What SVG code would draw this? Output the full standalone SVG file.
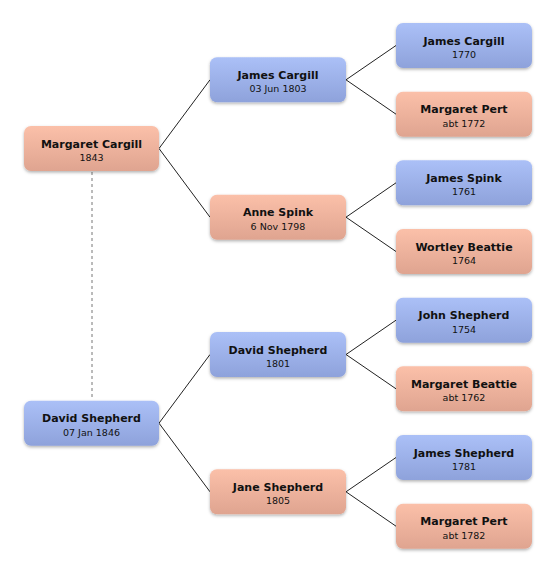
<svg xmlns="http://www.w3.org/2000/svg" width="556" height="574" viewBox="0 0 556 574">
<defs>
<linearGradient id="gb" x1="0" y1="0" x2="0" y2="1"><stop offset="0" stop-color="#abc0f7"/><stop offset="1" stop-color="#8ea2db"/></linearGradient>
<linearGradient id="gp" x1="0" y1="0" x2="0" y2="1"><stop offset="0" stop-color="#fbc0a9"/><stop offset="1" stop-color="#dfa490"/></linearGradient>
<filter id="sh" x="-10%" y="-20%" width="120%" height="150%"><feDropShadow dx="0" dy="1.5" stdDeviation="1.5" flood-color="#000" flood-opacity="0.3"/></filter>
<style>
.b{fill:url(#gb);filter:url(#sh)}
.p{fill:url(#gp);filter:url(#sh)}
.n{font-family:"DejaVu Sans",sans-serif;font-weight:bold;font-size:11px;fill:#111;text-anchor:middle}
.d{font-family:"DejaVu Sans",sans-serif;font-size:9.5px;fill:#111;text-anchor:middle}
.c line{stroke:#222;stroke-width:1}
</style>
</defs>
<rect width="556" height="574" fill="#fff"/>
<g class="c">
<line x1="92" y1="172" x2="92" y2="400" stroke="#666" stroke-dasharray="3,3" style="stroke:#777"/>
<line x1="159" y1="148.5" x2="210" y2="79.8"/>
<line x1="159" y1="148.5" x2="210" y2="217.2"/>
<line x1="159" y1="423.2" x2="210" y2="354.5"/>
<line x1="159" y1="423.2" x2="210" y2="491.8"/>
<line x1="346" y1="79.8" x2="396" y2="45.5"/>
<line x1="346" y1="79.8" x2="396" y2="114.2"/>
<line x1="346" y1="217.2" x2="396" y2="182.8"/>
<line x1="346" y1="217.2" x2="396" y2="251.5"/>
<line x1="346" y1="354.5" x2="396" y2="320.2"/>
<line x1="346" y1="354.5" x2="396" y2="388.8"/>
<line x1="346" y1="491.8" x2="396" y2="457.5"/>
<line x1="346" y1="491.8" x2="396" y2="526.2"/>
</g>
<g id="n1"><rect class="p" x="24" y="126" width="135" height="45" rx="7"/><text class="n" x="91.5" y="147.5">Margaret Cargill</text><text class="d" x="91.5" y="161">1843</text></g>
<g id="n2"><rect class="b" x="24" y="400.7" width="135" height="45" rx="7"/><text class="n" x="91.5" y="422.2">David Shepherd</text><text class="d" x="91.5" y="435.7">07 Jan 1846</text></g>
<g id="n3"><rect class="b" x="210" y="57.3" width="136" height="45" rx="7"/><text class="n" x="278" y="78.8">James Cargill</text><text class="d" x="278" y="92.3">03 Jun 1803</text></g>
<g id="n4"><rect class="p" x="210" y="194.7" width="136" height="45" rx="7"/><text class="n" x="278" y="216.2">Anne Spink</text><text class="d" x="278" y="229.7">6 Nov 1798</text></g>
<g id="n5"><rect class="b" x="210" y="332" width="136" height="45" rx="7"/><text class="n" x="278" y="353.5">David Shepherd</text><text class="d" x="278" y="367">1801</text></g>
<g id="n6"><rect class="p" x="210" y="469.3" width="136" height="45" rx="7"/><text class="n" x="278" y="490.8">Jane Shepherd</text><text class="d" x="278" y="504.3">1805</text></g>
<g id="n7"><rect class="b" x="396" y="23" width="136" height="45" rx="7"/><text class="n" x="464" y="44.5">James Cargill</text><text class="d" x="464" y="58">1770</text></g>
<g id="n8"><rect class="p" x="396" y="91.7" width="136" height="45" rx="7"/><text class="n" x="464" y="113.2">Margaret Pert</text><text class="d" x="464" y="126.7">abt 1772</text></g>
<g id="n9"><rect class="b" x="396" y="160.3" width="136" height="45" rx="7"/><text class="n" x="464" y="181.8">James Spink</text><text class="d" x="464" y="195.3">1761</text></g>
<g id="n10"><rect class="p" x="396" y="229" width="136" height="45" rx="7"/><text class="n" x="464" y="250.5">Wortley Beattie</text><text class="d" x="464" y="264">1764</text></g>
<g id="n11"><rect class="b" x="396" y="297.7" width="136" height="45" rx="7"/><text class="n" x="464" y="319.2">John Shepherd</text><text class="d" x="464" y="332.7">1754</text></g>
<g id="n12"><rect class="p" x="396" y="366.3" width="136" height="45" rx="7"/><text class="n" x="464" y="387.8">Margaret Beattie</text><text class="d" x="464" y="401.3">abt 1762</text></g>
<g id="n13"><rect class="b" x="396" y="435" width="136" height="45" rx="7"/><text class="n" x="464" y="456.5">James Shepherd</text><text class="d" x="464" y="470">1781</text></g>
<g id="n14"><rect class="p" x="396" y="503.7" width="136" height="45" rx="7"/><text class="n" x="464" y="525.2">Margaret Pert</text><text class="d" x="464" y="538.7">abt 1782</text></g>
</svg>
